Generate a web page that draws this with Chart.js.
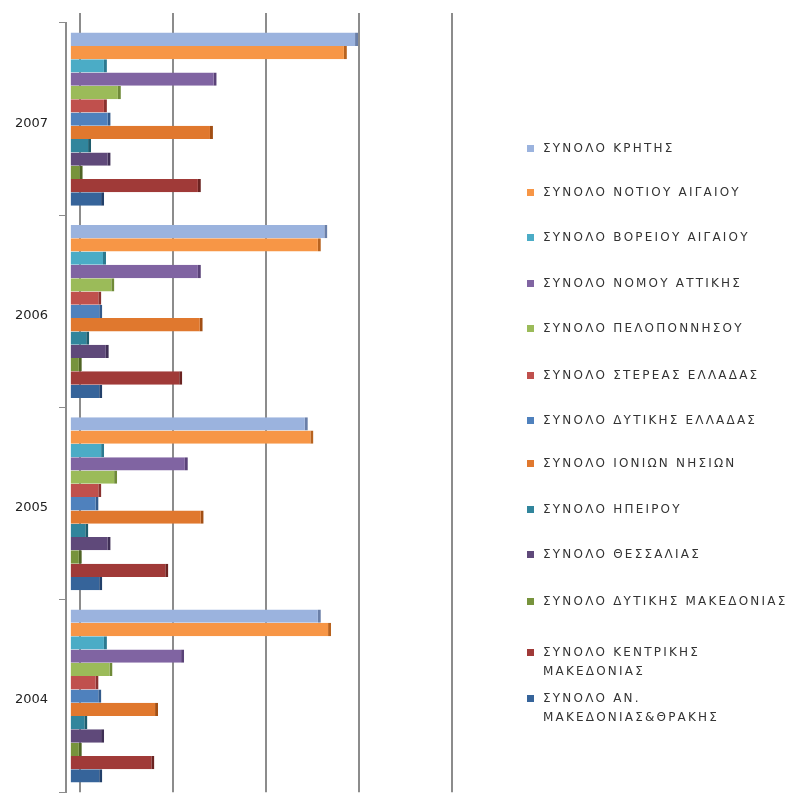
<!DOCTYPE html>
<html>
<head>
<meta charset="utf-8">
<script src="https://cdn.jsdelivr.net/npm/chart.js@4/dist/chart.umd.min.js"></script>
<style>
	body { margin: 0; background: #fff; }
	#wrap { position: relative; width: 790px; height: 811px; }
	#legend { position: absolute; left: 0; top: 0; font-family: "DejaVu Sans", sans-serif; font-size: 12px; color: #333; letter-spacing: 2.2px; }
	.item { position: absolute; left: 527px; white-space: nowrap; line-height: 19px; }
	.box { position: absolute; left: 0; top: 6px; width: 7px; height: 7px; }
	.txt { position: absolute; left: 16px; top: 0; }
</style>
</head>
<body>
<div id="wrap">
	<canvas id="chart"></canvas>
	<div id="legend"></div>
</div>
<script>
// years, top to bottom
const years = ["2007", "2006", "2005", "2004"];

const seriesNames = [
	"ΣΥΝΟΛΟ ΚΡΗΤΗΣ",
	"ΣΥΝΟΛΟ ΝΟΤΙΟΥ ΑΙΓΑΙΟΥ",
	"ΣΥΝΟΛΟ ΒΟΡΕΙΟΥ ΑΙΓΑΙΟΥ",
	"ΣΥΝΟΛΟ ΝΟΜΟΥ ΑΤΤΙΚΗΣ",
	"ΣΥΝΟΛΟ ΠΕΛΟΠΟΝΝΗΣΟΥ",
	"ΣΥΝΟΛΟ ΣΤΕΡΕΑΣ ΕΛΛΑΔΑΣ",
	"ΣΥΝΟΛΟ ΔΥΤΙΚΗΣ ΕΛΛΑΔΑΣ",
	"ΣΥΝΟΛΟ ΙΟΝΙΩΝ ΝΗΣΙΩΝ",
	"ΣΥΝΟΛΟ ΗΠΕΙΡΟΥ",
	"ΣΥΝΟΛΟ ΘΕΣΣΑΛΙΑΣ",
	"ΣΥΝΟΛΟ ΔΥΤΙΚΗΣ ΜΑΚΕΔΟΝΙΑΣ",
	["ΣΥΝΟΛΟ ΚΕΝΤΡΙΚΗΣ", "ΜΑΚΕΔΟΝΙΑΣ"],
	["ΣΥΝΟΛΟ ΑΝ.", "ΜΑΚΕΔΟΝΙΑΣ&ΘΡΑΚΗΣ"],
];

// values per series, same order as years
const kriti = [2.99, 2.66, 2.45, 2.59];
const notiouAigaiou = [2.87, 2.59, 2.51, 2.70];
const voreiouAigaiou = [0.29, 0.28, 0.26, 0.29];
const attikis = [1.47, 1.30, 1.16, 1.12];
const peloponnisou = [0.44, 0.37, 0.40, 0.35];
const stereas = [0.29, 0.23, 0.23, 0.20];
const dytikisElladas = [0.33, 0.24, 0.20, 0.23];
const ionion = [1.43, 1.32, 1.33, 0.84];
const ipeirou = [0.12, 0.10, 0.09, 0.08];
const thessalias = [0.33, 0.31, 0.33, 0.26];
const dytikisMakedonias = [0.03, 0.02, 0.02, 0.02];
const kentrikisMakedonias = [1.30, 1.10, 0.95, 0.80];
const anMakedonias = [0.26, 0.24, 0.24, 0.24];

const seriesValues = [
	kriti, notiouAigaiou, voreiouAigaiou, attikis, peloponnisou, stereas, dytikisElladas,
	ionion, ipeirou, thessalias, dytikisMakedonias, kentrikisMakedonias, anMakedonias,
];

const colors = [
	"#9bb3de", "#f79646", "#4bacc6", "#8064a2", "#9bbb59", "#c0504d", "#4f81bd",
	"#e0782e", "#31859c", "#5f497a", "#77933c", "#a03a38", "#36649a",
];
const edges = [
	"#6a7fa8", "#b8631f", "#2c7a90", "#5a4278", "#6f8a38", "#8a3230", "#335b8c",
	"#a24f14", "#1f5c6c", "#3f2f55", "#4f6424", "#6b2321", "#22406a",
];

const legendTops = [149, 193, 238, 284, 329, 376, 421, 464, 510, 555, 602, 653, 699];

const legend = document.getElementById("legend");
seriesNames.forEach((name, i) => {
	const item = document.createElement("div");
	item.className = "item";
	item.style.top = (legendTops[i] - 10) + "px";
	const lines = Array.isArray(name) ? name : [name];
	item.innerHTML = '<span class="box" style="background:' + colors[i] + '"></span>' +
		'<span class="txt">' + lines.join("<br>") + "</span>";
	legend.appendChild(item);
});

const datasets = seriesValues.map((values, i) => ({
	label: Array.isArray(seriesNames[i]) ? seriesNames[i].join(" ") : seriesNames[i],
	data: values,
	base: -0.1,
	backgroundColor: colors[i],
	borderColor: edges[i],
	borderWidth: { right: 3, left: 0, top: 0, bottom: 0 },
	borderSkipped: false,
	categoryPercentage: 0.9,
	barPercentage: 1,
}));

const options = {
	indexAxis: "y",
	responsive: false,
	animation: false,
	layout: {
		padding: { top: 13, left: 15, right: 338, bottom: 0 },
	},
	plugins: {
		legend: { display: false },
		tooltip: { enabled: false },
	},
	scales: {
		x: {
			position: "top",
			min: -0.15,
			max: 4,
			afterBuildTicks: (scale) => {
				scale.ticks = [0, 1, 2, 3, 4].map((v) => ({ value: v }));
			},
			ticks: { display: false },
			grid: { color: "#8c8c8c", lineWidth: 2, drawTicks: true, tickLength: 10 },
			border: { display: false },
		},
		y: {
			afterFit: (scale) => {
				scale.width = 51;
			},
			ticks: {
				color: "#222",
				padding: 11,
				labelOffset: 4,
				font: { family: "DejaVu Sans", size: 13 },
			},
			grid: { drawOnChartArea: false, drawTicks: true, tickLength: 7, color: "#8c8c8c", lineWidth: 1 },
			border: { display: true, color: "#8c8c8c", width: 2 },
		},
	},
};

const canvas = document.getElementById("chart");
canvas.width = 790;
canvas.height = 811;

new Chart(canvas, {
	type: "bar",
	data: { labels: years, datasets },
	options,
});
</script>
</body>
</html>
